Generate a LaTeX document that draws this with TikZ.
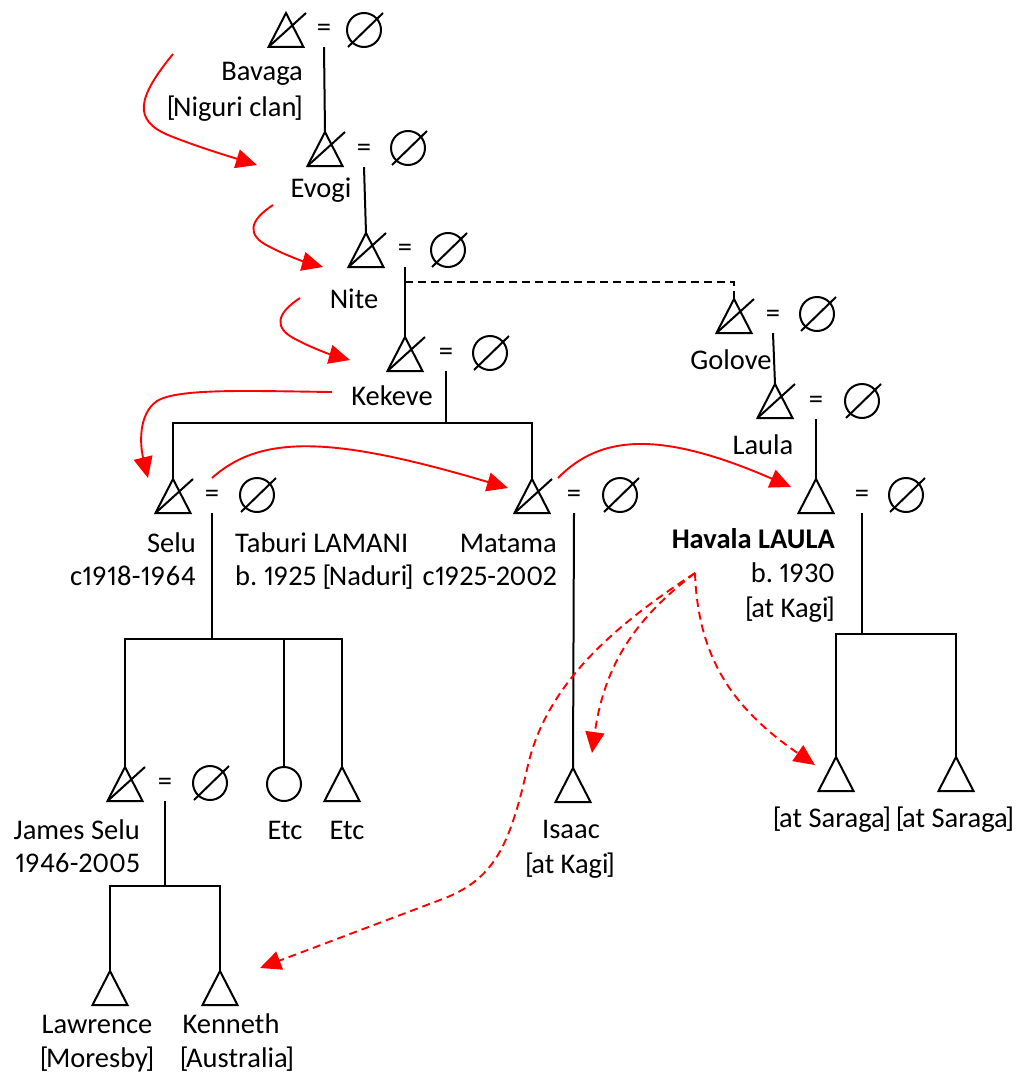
\documentclass[tikz,border=0pt]{standalone}
\usepackage{fontspec}
\setmainfont[Numbers=Proportional]{Carlito}
\usetikzlibrary{arrows.meta}
\frenchspacing
\newcommand{\lb}{[\kern-2.5pt}
\newcommand{\rb}{\kern-2.5pt]}
\begin{document}
\begin{tikzpicture}[x=1pt,y=-1pt,
  sym/.style={line width=2pt, black},
  kin/.style={line width=2pt, black},
  kindash/.style={kin, dash pattern=on 8pt off 5pt},
  lbl/.style={inner sep=0pt, font=\fontsize{28.5}{34}\selectfont},
  eqs/.style={inner sep=0pt, minimum height=34pt, font=\fontsize{28.5}{34}\selectfont},
  fem/.style={circle, draw, line width=2pt, minimum size=34pt, inner sep=0pt},
  redarrow/.style={red, line width=1.9pt, -{Triangle[length=21pt,width=19pt]}},
  reddash/.style={redarrow, dash pattern=on 8pt off 5pt},
  male/.pic={\draw[sym] (0,0) -- (-17.5,34) -- (17.5,34) -- cycle;},
  dmale/.pic={\draw[sym] (0,0) -- (-17.5,34) -- (17.5,34) -- cycle;
              \draw[sym] (-17.5,34) -- (20,0);},
  dfemale/.pic={\draw[sym] (0,0) circle (17);
                \draw[sym] (-16,17) -- (19,-17);}
]
\useasboundingbox (0,0) rectangle (1015,1073);

% ---- persons (triangle apexes) ----
\coordinate (bav) at (286,13);
\coordinate (evo) at (325,132);
\coordinate (nit) at (366,233);
\coordinate (kek) at (405,337);
\coordinate (gol) at (734,299);
\coordinate (lau) at (775,384);
\coordinate (sel) at (173,479);
\coordinate (mat) at (532,479);
\coordinate (hav) at (816,479);
\coordinate (jam) at (125,767);
\coordinate (etcb) at (342,767);
\coordinate (isa) at (573,768);
\coordinate (sar1) at (836,757);
\coordinate (sar2) at (956,757);
\coordinate (law) at (110,971);
\coordinate (ken) at (220,971);

\foreach \p in {bav,evo,nit,kek,gol,lau,sel,mat,jam} \pic at (\p) {dmale};
\foreach \p in {hav,etcb,isa,sar1,sar2,law,ken} \pic at (\p) {male};

% ---- wives ----
\coordinate (bavw) at (364,30);
\coordinate (evow) at (408,148);
\coordinate (nitw) at (448,250);
\coordinate (kekw) at (490,353);
\coordinate (golw) at (817,314);
\coordinate (lauw) at (862,401);
\coordinate (selw) at (257,495);
\coordinate (matw) at (620,495);
\coordinate (havw) at (906,495);
\coordinate (jamw) at (210,783);
\foreach \p in {bavw,evow,nitw,kekw,golw,lauw,selw,matw,havw,jamw} \pic at (\p) {dfemale};
\node[fem] (etca) at (284,784) {};

% ---- marriage signs ----
\node[eqs] (bm) at (324,30) {=};
\node[eqs] (em) at (364,150) {=};
\node[eqs] (nm) at (405,250) {=};
\node[eqs] (km) at (446,354) {=};
\node[eqs] (gm) at (773,316) {=};
\node[eqs] (lm) at (816,402) {=};
\node[eqs] (sm) at (212,496) {=};
\node[eqs] (mm) at (574,496) {=};
\node[eqs] (hm) at (862,496) {=};
\node[eqs] (jm) at (165,784) {=};

% ---- junctions ----
\coordinate (nitej) at (405,282);
\coordinate (kekj) at (446,423);
\coordinate (selj) at (212,639);
\coordinate (havj) at (862,634);
\coordinate (jamj) at (165,886);

% ---- descent lines ----
\draw[kin] (bm.south) -- (evo);
\draw[kin] (em.south) -- (nit);
\draw[kin] (nm.south) -- (kek);
\draw[kindash] (nitej) -| (gol);
\draw[kin] (gm.south) -- (lau);
\draw[kin] (lm.south) -- (hav);
\draw[kin] (km.south) -- (kekj);
\draw[kin] (sel) |- (kekj) -| (mat);
\draw[kin] (sm.south) -- (selj);
\draw[kin] (jam) |- (selj) -| (etcb);
\draw[kin] (etca.north) -- (etca.north |- selj);
\draw[kin] (mm.south) -- (isa);
\draw[kin] (hm.south) -- (havj);
\draw[kin] (sar1) |- (havj) -| (sar2);
\draw[kin] (jm.south) -- (jamj);
\draw[kin] (law) |- (jamj) -| (ken);

% ---- labels ----
\node[lbl, anchor=base east] (tbav) at (303,81) {Bavaga};
\node[lbl, anchor=base east] (tbav2) at (303,116) {\lb Niguri clan\rb};
\node[lbl, anchor=base] (tevo) at (321,197) {Evogi};
\node[lbl, anchor=base] (tnit) at (354,308) {Nite};
\node[lbl, anchor=base] (tkek) at (392,405) {Kekeve};
\node[lbl, anchor=base] (tgol) at (731,369) {Golove};
\node[lbl, anchor=base] (tlau) at (763,454) {Laula};
\node[lbl, anchor=base east] (tsel) at (196,552) {Selu};
\node[lbl, anchor=base east] (tsel2) at (196,585) {c1918-1964};
\node[lbl, anchor=base west] (ttab) at (235,552) {Taburi LAMANI};
\node[lbl, anchor=base west] (ttab2) at (235,585) {b. 1925 \lb Naduri\rb};
\node[lbl, anchor=base east] (tmat) at (557,552) {Matama};
\node[lbl, anchor=base east] (tmat2) at (557,585) {c1925-2002};
\node[lbl, anchor=base east, font=\fontsize{28.5}{34}\selectfont\bfseries] (thav) at (835,548) {Havala LAULA};
\node[lbl, anchor=base east] (thav2) at (835,582) {b. 1930};
\node[lbl, anchor=base east] (thav3) at (835,617) {\lb at Kagi\rb};
\node[lbl, anchor=base east] (tjam) at (140,839) {James Selu};
\node[lbl, anchor=base east] (tjam2) at (140,872) {1946-2005};
\node[lbl, anchor=base] (tetca) at (285,839) {Etc};
\node[lbl, anchor=base] (tetcb) at (347,839) {Etc};
\node[lbl, anchor=base] (tisa) at (571,838) {Isaac};
\node[lbl, anchor=base] (tisa2) at (570,873) {\lb at Kagi\rb};
\node[lbl, anchor=base] (tsar1) at (832,827) {\lb at Saraga\rb};
\node[lbl, anchor=base] (tsar2) at (955,827) {\lb at Saraga\rb};
\node[lbl, anchor=base] (tlaw) at (97,1033) {Lawrence};
\node[lbl, anchor=base] (tlaw2) at (97,1067) {\lb Moresby\rb};
\node[lbl, anchor=base] (tken) at (231,1033) {Kenneth};
\node[lbl, anchor=base] (tken2) at (237,1067) {\lb Australia\rb};

% ---- red succession arrows ----
\coordinate (a1s) at (173,54);   \coordinate (a1e) at (257,165);
\coordinate (a2s) at (273,205);  \coordinate (a2e) at (323,267);
\coordinate (a3s) at (300,298);  \coordinate (a3e) at (350,360);
\coordinate (a4s) at (332,392);  \coordinate (a4e) at (148,478);
\coordinate (a5s) at (212,478);  \coordinate (a5e) at (508,488);
\coordinate (a6s) at (558,478);  \coordinate (a6e) at (791,487);
\draw[redarrow] (a1s) .. controls (137,98) and (133,120) .. (168,135)
                      .. controls (195,146) and (228,156) .. (a1e);
\draw[redarrow] (a2s) .. controls (250,220) and (245,235) .. (270,247)
                      .. controls (285,255) and (305,262) .. (a2e);
\draw[redarrow] (a3s) .. controls (277,313) and (272,328) .. (297,340)
                      .. controls (312,348) and (332,355) .. (a3e);
\draw[redarrow] (a4s) .. controls (250,391) and (178,388) .. (157,401)
                      .. controls (138,414) and (140,445) .. (a4e);
\draw[redarrow] (a5s) .. controls (260,435) and (330,435) .. (a5e);
\draw[redarrow] (a6s) .. controls (600,435) and (660,430) .. (a6e);

% ---- dashed red arrows from Havala ----
\coordinate (hs) at (695,573);
\coordinate (d1e) at (592,753);
\coordinate (d2e) at (260,968);
\coordinate (d3e) at (815,765);
\draw[reddash] (hs) .. controls (640,615) and (605,660) .. (d1e);
\draw[reddash] (hs) .. controls (620,622) and (548,680) .. (528,765)
                    .. controls (510,845) and (495,880) .. (440,900) -- (d2e);
\draw[reddash] (hs) .. controls (698,660) and (735,710) .. (d3e);
\end{tikzpicture}
\end{document}
